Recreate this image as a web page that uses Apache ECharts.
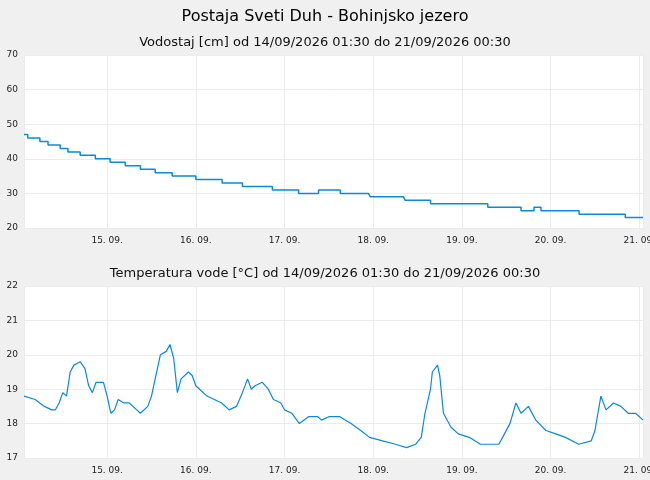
<!DOCTYPE html>
<html><head><meta charset="utf-8">
<script src="https://cdn.jsdelivr.net/npm/echarts@6/dist/echarts.min.js"></script>
<style>html,body{margin:0;padding:0;background:#f0f0f0}#c{width:650px;height:480px}</style>
</head><body><div id="c"></div>
<script>
// hours since 14/09/2026 00:00
const levelHours = [1.5,2.5,5.8,8,11.3,13.4,16.7,20.8,24.8,28.9,33,37,41.6,48,55.1,60.6,68.7,75.8,81.2,87.1,94.7,95.2,104.2,104.6,111.5,127,136,139.5,141.4,151.7,164.2,169];
const levelValues = [47,46,45,44,43,42,41,40,39,38,37,36,35,34,33,32,31,30,31,30,29.5,29,28.5,28,27,26,25,26,25,24,23,23];
const tempHours = [1.5,4.5,7,9,10,11,12,13,14,15,16.7,18,19,20,21,23,24,25,26,27,28.5,30,32,33,35,36,37,38.4,40,41,42,43,44,46,47,48,49,51,53,55,57,59,60.6,62,63,64,66,67.6,69,71,72,74,76,78.5,81,82,84,87,88.5,90,92.6,95,98.5,102,105,107.5,109,110,111.5,112,113.4,114,115,117,119,122,125,130,131,133,134.6,136,138,140,142.7,145.4,148,151.6,155,156,157.6,159,161,163,165,167,169];
const tempValues = [18.8,18.7,18.5,18.4,18.4,18.6,18.9,18.8,19.5,19.7,19.8,19.6,19.1,18.9,19.2,19.2,18.8,18.3,18.4,18.7,18.6,18.6,18.4,18.3,18.5,18.8,19.3,20.0,20.1,20.3,19.9,18.9,19.3,19.5,19.4,19.1,19.0,18.8,18.7,18.6,18.4,18.5,18.9,19.3,19.0,19.1,19.2,19.0,18.7,18.6,18.4,18.3,18.0,18.2,18.2,18.1,18.2,18.2,18.1,18.0,17.8,17.6,17.5,17.4,17.3,17.4,17.6,18.3,19.0,19.5,19.7,19.4,18.3,17.9,17.7,17.6,17.4,17.4,17.6,18.0,18.6,18.3,18.5,18.1,17.8,17.7,17.6,17.4,17.5,17.8,18.8,18.4,18.6,18.5,18.3,18.3,18.1];
const dayLabels = ['15. 09.','16. 09.','17. 09.','18. 09.','19. 09.','20. 09.','21. 09.'];

const t0 = new Date(2026,8,14,0,0).getTime();
const H = 3600000;
const toPts = (h,v)=>h.map((x,i)=>[t0+x*H, v[i]]);
const xMin = t0+1.5*H, xMax = t0+169*H;
const font = 'DejaVu Sans';
function xAxis(gi){return {type:'time',gridIndex:gi,min:xMin,max:xMax,interval:24*H,minInterval:24*H,maxInterval:24*H,
  axisLine:{show:false},axisTick:{show:false},
  splitLine:{show:true,lineStyle:{color:'#ececec'}},
  axisLabel:{fontSize:9,color:'#222',fontFamily:font,formatter:(v)=>{const d=new Date(v);return String(d.getDate()).padStart(2,'0')+'. '+String(d.getMonth()+1).padStart(2,'0')+'.';},hideOverlap:true}};}
function yAxis(gi,min,max,iv){return {type:'value',gridIndex:gi,min:min,max:max,interval:iv,
  axisLine:{show:false},axisTick:{show:false},
  splitLine:{lineStyle:{color:'#ececec'}},
  axisLabel:{fontSize:9,color:'#222',fontFamily:font,margin:6}};}
const chart = echarts.init(document.getElementById('c'));
chart.setOption({
  backgroundColor:'#f0f0f0',animation:false,
  title:[
    {text:'Postaja Sveti Duh - Bohinjsko jezero',left:'center',top:4,textStyle:{fontSize:16,fontWeight:'normal',color:'#000',fontFamily:font}},
    {text:'Vodostaj [cm] od 14/09/2026 01:30 do 21/09/2026 00:30',left:'center',top:31,textStyle:{fontSize:13,fontWeight:'normal',color:'#111',fontFamily:font}},
    {text:'Temperatura vode [°C] od 14/09/2026 01:30 do 21/09/2026 00:30',left:'center',top:262,textStyle:{fontSize:13,fontWeight:'normal',color:'#111',fontFamily:font}}
  ],
  grid:[
    {left:24,right:7,top:55,height:173,backgroundColor:'#fff',show:true,borderWidth:0,outerBoundsMode:'none',containLabel:false},
    {left:24,right:7,top:286,height:172,backgroundColor:'#fff',show:true,borderWidth:0,outerBoundsMode:'none',containLabel:false}
  ],
  xAxis:[xAxis(0),xAxis(1)],
  yAxis:[yAxis(0,20,70,10),yAxis(1,17,22,1)],
  series:[
    {type:'line',xAxisIndex:0,yAxisIndex:0,step:'end',symbol:'none',data:toPts(levelHours,levelValues),lineStyle:{color:'#0a8ad8',width:1.5}},
    {type:'line',xAxisIndex:1,yAxisIndex:1,symbol:'none',data:toPts(tempHours,tempValues),lineStyle:{color:'#0a8ad8',width:1.2}}
  ]
});
</script></body></html>
